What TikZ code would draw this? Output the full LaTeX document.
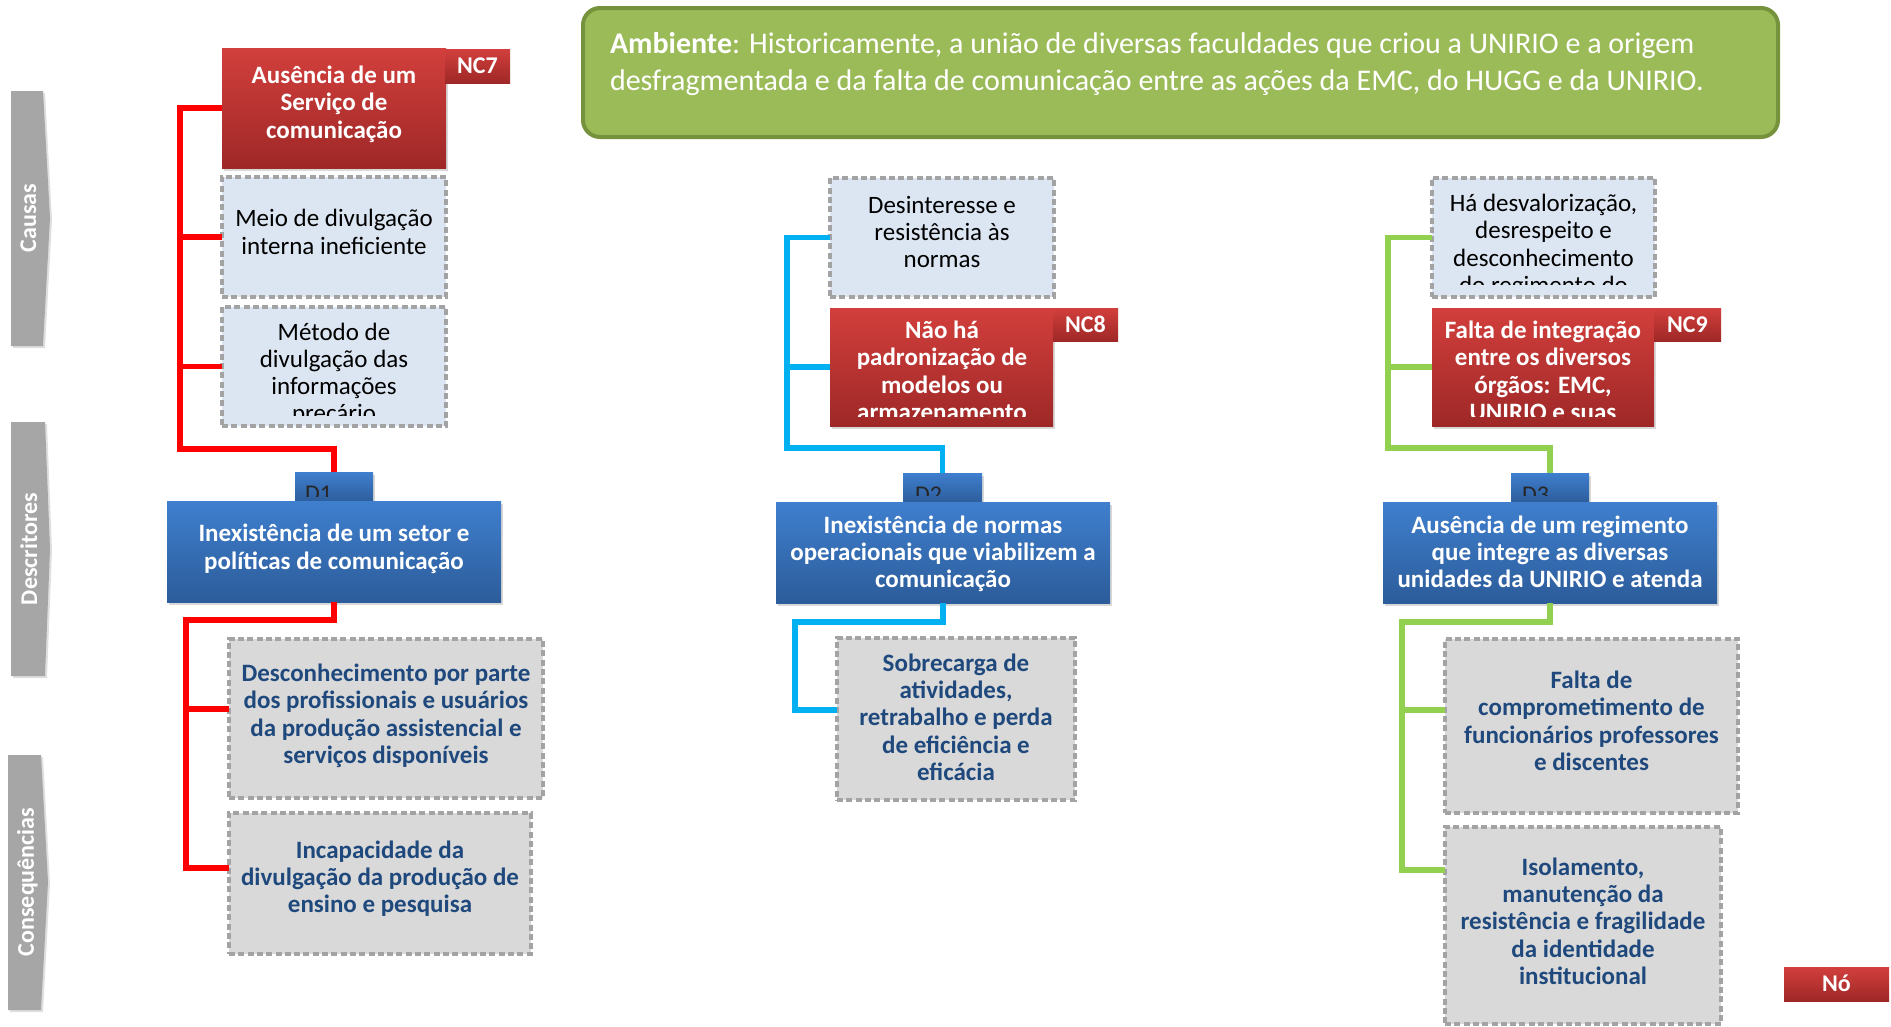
\documentclass[tikz,border=0pt]{standalone}
\usepackage{fontspec}
\setmainfont{Carlito}
\usetikzlibrary{shadows}

\definecolor{ncTop}{RGB}{210,63,60}
\definecolor{ncBot}{RGB}{158,40,39}
\definecolor{dTop}{RGB}{63,127,206}
\definecolor{dBot}{RGB}{44,92,154}
\definecolor{causeFill}{RGB}{220,230,242}
\definecolor{conFill}{RGB}{217,217,217}
\definecolor{dashGray}{RGB}{163,163,163}
\definecolor{conText}{RGB}{31,73,125}
\definecolor{sideGray}{RGB}{166,166,166}
\definecolor{envFill}{RGB}{155,187,89}
\definecolor{envLine}{RGB}{118,146,60}
\definecolor{linkRed}{RGB}{255,0,0}
\definecolor{linkBlue}{RGB}{0,176,240}
\definecolor{linkGreen}{RGB}{146,208,80}

\newcommand\bodyfont{\fontsize{25}{27.3}\selectfont}
\newcommand\tagfont{\fontsize{24}{28}\selectfont\bfseries}
\newcommand\sidefont{\fontsize{24}{28}\selectfont\bfseries}
\newcommand\envfont{\fontsize{30}{37}\selectfont}
\newcommand\txtblock[1]{\strut#1\strut}

% \panel[style]{name}{x1}{y1}{x2}{y2}{content}: a box given by its corners
\newcommand\panel[7][]{%
  \node[#1, anchor=north west, minimum width={(#5)-(#3)},
        minimum height={(#6)-(#4)}] (#2) at (#3,#4) {#7};}

\tikzset{
  every node/.style={inner sep=0pt, outer sep=0pt},
  raised/.style={drop shadow={shadow xshift=1.5pt, shadow yshift=-3pt, opacity=0.3}},
  ncbox/.style={top color=ncTop, bottom color=ncBot, raised},
  dbox/.style={top color=dTop, bottom color=dBot, raised},
  tabbox/.style={top color=dTop, bottom color=dBot, raised},
  nctag/.style={top color=ncTop, bottom color=ncBot, text=white, font=\tagfont,
                text height=15.5pt, text depth=0pt},
  dashframe/.style={draw=dashGray, line width=3.5pt, dash pattern=on 6pt off 3.3pt},
  causebox/.style={fill=causeFill, dashframe},
  conbox/.style={fill=conFill, dashframe},
  link/.style={line width=5.5pt},
  txt/.style={align=center, font=\bodyfont},
  wtxt/.style={txt, text=white, font=\bodyfont\bfseries},
  ktxt/.style={txt, text=black},
  ctxt/.style={txt, text=conText, font=\bodyfont\bfseries},
  tablabel/.style={anchor=base west, font=\fontsize{24}{28}\selectfont, text=black!85},
  sidelabel/.style={rotate=90, anchor=base, text=white, font=\sidefont},
  side/.style={fill=sideGray, drop shadow={shadow xshift=2pt, shadow yshift=-2pt, opacity=0.25}},
}

\begin{document}
\begin{tikzpicture}[x=1pt, y=-1pt]
\path[use as bounding box, fill=white] (0,0) rectangle (1891,1026);

% ---- stage bars on the left
\fill[side] (11,91) -- (43,91) -- (50,218) -- (43,346) -- (11,346) -- cycle;
\fill[side] (11,422) -- (45,422) -- (50,549) -- (45,676) -- (11,676) -- cycle;
\fill[side] (8,755) -- (41,755) -- (48,882) -- (41,1010) -- (8,1010) -- cycle;
\node[sidelabel] (causas) at (36,218) {Causas};
\node[sidelabel] (descritores) at (37,549) {Descritores};
\node[sidelabel] (consequencias) at (34,882) {Consequências};

% ---- environment banner
\panel[draw=envLine, fill=envFill, line width=4pt, rounded corners=17pt]{env}{583}{8}{1778}{137}{}
\node[anchor=west, align=left, text=white, font=\envfont] (envtxt) at (610,64.1)
  {\txtblock{\textbf{Ambiente}: Historicamente, a união de diversas faculdades que criou a UNIRIO e a origem\\
   desfragmentada e da falta de comunicação entre as ações da EMC, do HUGG e da UNIRIO.}};

% ---- boxes, column 1
\panel[ncbox]{nc7}{222}{48}{446}{168}{}
\panel[nctag]{tag7}{445}{49}{510}{83}{NC7}
\panel[causebox]{meio}{222}{177}{446}{297}{}
\panel[causebox]{metodo}{222}{307}{446}{426}{}
\panel[tabbox]{d1tab}{295}{472}{373}{503}{}
\panel[conbox]{con1a}{229}{639}{543}{798}{}
\panel[conbox]{con1b}{229}{813}{531}{954}{}

% ---- boxes, column 2
\panel[causebox]{des}{830}{178}{1054}{297}{}
\panel[ncbox]{nc8}{830}{308}{1053}{426}{}
\panel[nctag]{tag8}{1053}{308}{1118}{341}{NC8}
\panel[tabbox]{d2tab}{903}{473}{982}{503}{}
\panel[conbox]{con2}{837}{638}{1075}{800}{}

% ---- boxes, column 3
\panel[causebox]{ha}{1432}{178}{1655}{297}{}
\panel[ncbox]{nc9}{1432}{308}{1654}{426}{}
\panel[nctag]{tag9}{1654}{308}{1721}{341}{NC9}
\panel[tabbox]{d3tab}{1511}{473}{1589}{503}{}
\panel[conbox]{con3a}{1445}{639}{1738}{813}{}
\panel[conbox]{con3b}{1445}{827}{1721}{1024}{}

% ---- tab labels, partly hidden
\begin{scope}\clip (295,472) rectangle (373,496);
  \node[tablabel] (d1lab) at (305,501.5) {D1};\end{scope}
\begin{scope}\clip (903,473) rectangle (982,495);
  \node[tablabel] (d2lab) at (915,502.5) {D2};\end{scope}
\begin{scope}\clip (1511,473) rectangle (1589,495);
  \node[tablabel] (d3lab) at (1522,502.5) {D3};\end{scope}

% ---- descriptor boxes
\panel[dbox]{d1}{167}{501}{501}{602}{}
\panel[dbox]{d2}{776}{502}{1110}{603}{}
\panel[dbox]{d3}{1383}{502}{1717}{603}{}

% ---- connectors, column 1
\coordinate (r1) at (180,449);
\coordinate (r1b) at (186,620);
\coordinate (r1c) at (186,709);
\coordinate (r1d) at (186,868);
\draw[link, linkRed] (nc7.west) -| (r1) -| (d1tab.north);
\draw[link, linkRed] (meio.west) -- (meio.west -| r1);
\draw[link, linkRed] (metodo.west) -- (metodo.west -| r1);
\draw[link, linkRed] (d1.south) |- (r1b) -- (r1d) -- (r1d -| con1b.west);
\draw[link, linkRed] (r1c) -- (r1c -| con1a.west);

% ---- connectors, column 2
\coordinate (b2) at (787,448);
\coordinate (b2b) at (795,622);
\coordinate (b2c) at (795,710);
\draw[link, linkBlue] (des.west) -| (b2) -| (d2tab.north);
\draw[link, linkBlue] (nc8.west) -- (nc8.west -| b2);
\draw[link, linkBlue] (d2.south) |- (b2b) -- (b2c) -- (b2c -| con2.west);

% ---- connectors, column 3
\coordinate (g3) at (1388,448);
\coordinate (g3b) at (1402,622);
\coordinate (g3c) at (1402,710);
\coordinate (g3d) at (1402,870);
\draw[link, linkGreen] (ha.west) -| (g3) -| (d3tab.north);
\draw[link, linkGreen] (nc9.west) -- (nc9.west -| g3);
\draw[link, linkGreen] (d3.south) |- (g3b) -- (g3d) -- (g3d -| con3b.west);
\draw[link, linkGreen] (g3c) -- (g3c -| con3a.west);

% ---- texts, column 1
\node[wtxt] (nc7t) at (334,105.5) {\txtblock{Ausência de um\\Serviço de\\comunicação}};
\node[ktxt] (meiot) at (334,235) {\txtblock{Meio de divulgação\\interna ineficiente}};
\begin{scope}\clip (222,307) rectangle (446,415);
  \node[ktxt] (metodot) at (334,375.5) {\txtblock{Método de\\divulgação das\\informações\\precário}};
\end{scope}
\node[wtxt] (d1t) at (334,550) {\txtblock{Inexistência de um setor e\\políticas de comunicação}};
\node[ctxt] (con1at) at (386,717) {\txtblock{Desconhecimento por parte\\dos profissionais e usuários\\da produção assistencial e\\serviços disponíveis}};
\node[ctxt] (con1bt) at (380,880) {\txtblock{Incapacidade da\\divulgação da produção de\\ensino e pesquisa}};

% ---- texts, column 2
\node[ktxt] (dest) at (942,235) {\txtblock{Desinteresse e\\resistência às\\normas}};
\begin{scope}\clip (830,308) rectangle (1053,416);
  \node[wtxt] (nc8t) at (942,374) {\txtblock{Não há\\padronização de\\modelos ou\\armazenamento}};
\end{scope}
\node[wtxt] (d2t) at (943,555) {\txtblock{Inexistência de normas\\operacionais que viabilizem a\\comunicação}};
\node[ctxt] (con2t) at (956,720.5) {\txtblock{Sobrecarga de\\atividades,\\retrabalho e perda\\de eficiência e\\eficácia}};

% ---- texts, column 3
\begin{scope}\clip (1432,178) rectangle (1655,284);
  \node[ktxt] (hat) at (1543.5,247) {\txtblock{Há desvalorização,\\desrespeito e\\desconhecimento\\do regimento do}};
\end{scope}
\begin{scope}\clip (1432,308) rectangle (1654,416);
  \node[wtxt] (nc9t) at (1543,374) {\txtblock{Falta de integração\\entre os diversos\\órgãos: EMC,\\UNIRIO e suas}};
\end{scope}
\node[wtxt] (d3t) at (1550,555) {\txtblock{Ausência de um regimento\\que integre as diversas\\unidades da UNIRIO e atenda}};
\node[ctxt] (con3at) at (1591.5,724) {\txtblock{Falta de\\comprometimento de\\funcionários professores\\e discentes}};
\node[ctxt] (con3bt) at (1583,924.5) {\txtblock{Isolamento,\\manutenção da\\resistência e fragilidade\\da identidade\\institucional}};

% ---- legend tag
\panel[nctag]{no}{1784}{967}{1889}{1001}{Nó}
\end{tikzpicture}
\end{document}
